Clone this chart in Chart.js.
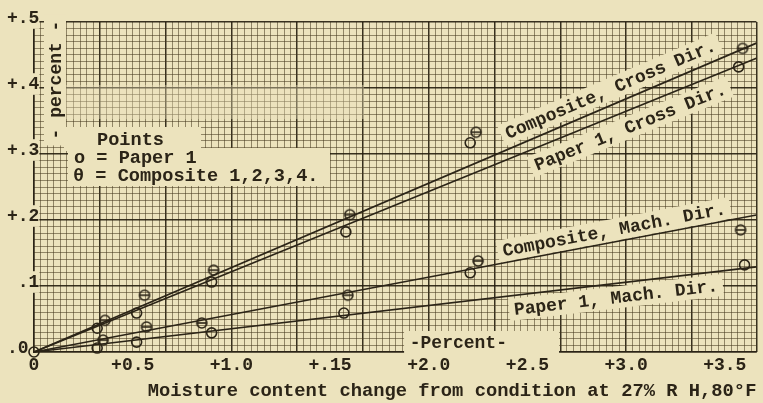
<!DOCTYPE html>
<html><head><meta charset="utf-8">
<script src="https://cdn.jsdelivr.net/npm/chart.js@4"></script>
<style>html,body{margin:0;padding:0;background:#ece3bd;} canvas{display:block}</style>
</head><body>
<canvas id="c" width="763" height="403"></canvas>
<script>
// ---------- data ----------
const xTickValues = [0, 0.5, 1, 1.5, 2, 2.5, 3, 3.5];
const xTickLabels = ["0", "+0.5", "+1.0", "+.15", "+2.0", "+2.5", "+3.0", "+3.5"];
const yTickValues = [0, 0.1, 0.2, 0.3, 0.4, 0.5];
const yTickLabels = [".0", " .1", "+.2", "+.3", "+.4", "+.5"];
const xTitle = "Moisture content change from condition at 27% R H,80°F";
const yTitle = "- percent -";
const xInnerLabel = "-Percent-";

// Points: o = Paper 1
const paperCrossX = [0, 0.32, 0.52, 0.90, 1.58, 2.21, 3.57];
const paperCrossY = [0, 0.036, 0.059, 0.106, 0.182, 0.317, 0.432];
const paperMachX  = [0.32, 0.52, 0.90, 1.57, 2.21, 3.60];
const paperMachY  = [0.006, 0.015, 0.029, 0.059, 0.120, 0.132];
// Points: θ = Composite 1,2,3,4
const compCrossX = [0.36, 0.56, 0.91, 1.60, 2.24, 3.59];
const compCrossY = [0.048, 0.086, 0.124, 0.208, 0.333, 0.460];
const compMachX  = [0.35, 0.57, 0.85, 1.59, 2.25, 3.58];
const compMachY  = [0.018, 0.038, 0.044, 0.086, 0.138, 0.185];

// Fitted straight lines (from origin to right edge)
const lineNames = ["Composite, Cross Dir.", "Paper 1, Cross Dir.", "Composite, Mach. Dir.", "Paper 1, Mach. Dir."];
const lineEndX  = [3.66, 3.66, 3.66, 3.66];
const lineEndY  = [0.468, 0.445, 0.2076, 0.129];

const legendTitle = "Points";
const legendLines = ["o = Paper 1", "θ = Composite 1,2,3,4."];

// ---------- style ----------
const INK = "#2b2417";
const BG = "#ece3bd";
const FONT = '"Liberation Mono", "DejaVu Sans Mono", monospace';
const TXT = 'bold 18px ' + FONT;
const LEG = 'bold 18.6px ' + FONT;
const XMAX = 3.66;

function pts(xs, ys){ return xs.map((x,i)=>({x:x, y:ys[i]})); }

function thetaImg(){
  const c = document.createElement('canvas'); c.width = 14; c.height = 14;
  const g = c.getContext('2d'); g.strokeStyle = INK; g.lineWidth = 1.6;
  g.beginPath(); g.arc(7,7,5,0,Math.PI*2); g.stroke();
  g.beginPath(); g.moveTo(2,7); g.lineTo(12,7); g.stroke();
  return c;
}

// label placement config (data-x along each line, side, perpendicular offset px)
const lineLabelCfg = [
  {x: 2.95, side: 1, off: 15},
  {x: 2.99, side: -1, off: 16},
  {x: 2.95, side: 1, off: 12},
  {x: 2.94, side: -1, off: 14}
];

const annot = {
  id: 'annot',
  beforeDatasetsDraw(chart){
    const ctx = chart.ctx, xs = chart.scales.x, ys = chart.scales.y, a = chart.chartArea;
    ctx.save();
    ctx.font = TXT;
    ctx.textAlign = 'center'; ctx.textBaseline = 'middle';
    // faded scan band
    ctx.fillStyle = 'rgba(236,227,189,0.38)';
    ctx.fillRect(a.left + 30, 85, 300, 34);
    // line labels
    lineNames.forEach((name, i) => {
      const x0 = xs.getPixelForValue(0), y0 = ys.getPixelForValue(0);
      const x1 = xs.getPixelForValue(lineEndX[i]), y1 = ys.getPixelForValue(lineEndY[i]);
      const ang = Math.atan2(y1 - y0, x1 - x0);
      const c = lineLabelCfg[i];
      const px = xs.getPixelForValue(c.x), py = ys.getPixelForValue(lineEndY[i] * c.x / lineEndX[i]);
      const nx = Math.sin(ang), ny = -Math.cos(ang);
      const cx = px + c.side * c.off * nx, cy = py + c.side * c.off * ny;
      const w = ctx.measureText(name).width;
      ctx.save();
      ctx.translate(cx, cy); ctx.rotate(ang);
      ctx.fillStyle = BG; ctx.fillRect(-w/2 - 5, -11, w + 10, 22);
      ctx.fillStyle = INK; ctx.fillText(name, 0, 1);
      ctx.restore();
    });
    // inner "-Percent-" label on x axis
    {
      const l = xs.getPixelForValue(1.875), r = xs.getPixelForValue(2.66);
      ctx.fillStyle = BG; ctx.fillRect(l, a.bottom - 21, r - l, 23);
      ctx.fillStyle = INK; ctx.fillText(xInnerLabel, xs.getPixelForValue(2.15), a.bottom - 9);
    }
    // legend box
    {
      const L = a.left;
      ctx.font = LEG;
      ctx.fillStyle = BG;
      ctx.fillRect(L + 30, 127, 137, 24);
      ctx.fillRect(L + 34, 148, 262, 38);
      ctx.fillStyle = INK;
      ctx.textAlign = 'left';
      ctx.fillText(legendTitle, L + 63, 140);
      ctx.fillText(legendLines[0], L + 40, 158);
      ctx.fillText(legendLines[1], L + 39, 176);
      ctx.font = TXT;
    }
    // y title (vertical)
    {
      ctx.save();
      ctx.translate(a.left + 21, 80);
      ctx.rotate(-Math.PI/2);
      const w = ctx.measureText(yTitle).width;
      ctx.fillStyle = BG; ctx.fillRect(-w/2 - 6, -11, w + 12, 22);
      ctx.fillStyle = INK; ctx.textAlign = 'center'; ctx.fillText(yTitle, 0, 1);
      ctx.restore();
    }
    ctx.restore();
  }
};

function isMajor(ctx){
  const v = ctx.tick ? ctx.tick.value : 0;
  return Math.abs(v % 10) < 1e-6 || Math.abs(v - ctx.scale.max) < 1e-6;
}
const gridColor = ctx => isMajor(ctx) ? 'rgba(35,28,12,0.9)' : 'rgba(70,56,30,0.55)';
const gridWidth = ctx => isMajor(ctx) ? 1.5 : 1;

function build(){
  const theta = thetaImg();
  const lineSets = lineNames.map((n, i) => ({
    label: n, data: [{x:0, y:0}, {x: lineEndX[i], y: lineEndY[i]}],
    showLine: true, borderColor: INK, borderWidth: 1.7, pointRadius: 0, fill: false, clip: false
  }));
  const circ = (label, d) => ({label, data: d, showLine: false, pointStyle: 'circle', pointRadius: 5,
    borderColor: INK, borderWidth: 1.6, backgroundColor: 'rgba(0,0,0,0)', clip: false});
  const th = (label, d) => ({label, data: d, showLine: false, pointStyle: theta, pointRadius: 5, clip: false});
  new Chart(document.getElementById('c'), {
    type: 'scatter',
    data: { datasets: [
      ...lineSets,
      circ('Paper 1 cross', pts(paperCrossX, paperCrossY)),
      circ('Paper 1 mach', pts(paperMachX, paperMachY)),
      th('Composite cross', pts(compCrossX, compCrossY)),
      th('Composite mach', pts(compMachX, compMachY))
    ]},
    options: {
      responsive: false, animation: false, events: [],
      layout: {padding: {left: 0, right: 1, top: 22, bottom: 0}},
      plugins: {legend: {display: false}, tooltip: {enabled: false}},
      scales: {
        x: {
          type: 'linear', position: 'bottom', min: 0, max: XMAX,
          afterBuildTicks: s => { s.ticks = xTickValues.map(v => ({value: v})); },
          ticks: {callback: (v, i) => xTickLabels[i], font: {family: FONT, size: 18, weight: 'bold'}, color: INK,
                  padding: 3, maxRotation: 0, autoSkip: false},
          grid: {display: false, drawTicks: false},
          border: {display: true, color: INK, width: 1.5},
          title: {display: true, text: xTitle, align: 'end', color: INK,
                  font: {family: FONT, size: 18.8, weight: 'bold'}, padding: {top: 0, bottom: 0}},
          afterFit: s => { s.height = 51; }
        },
        y: {
          type: 'linear', position: 'left', min: 0, max: 0.5,
          afterBuildTicks: s => { s.ticks = yTickValues.map(v => ({value: v})); },
          ticks: {callback: (v, i) => yTickLabels[i], font: {family: FONT, size: 18, weight: 'bold'}, color: INK,
                  mirror: true, crossAlign: 'near', padding: -27, labelOffset: -4, autoSkip: false,
                  showLabelBackdrop: true, backdropColor: BG, backdropPadding: {top: 0, bottom: 0, left: 0, right: 0}},
          grid: {display: false, drawTicks: false},
          border: {display: true, color: INK, width: 1.5},
          afterFit: s => { s.width = 34; }
        },
        gx: {
          type: 'linear', axis: 'x', position: 'bottom', min: 0, max: XMAX * 30, z: -1,
          afterBuildTicks: s => { const t = []; for (let i = 0; i <= Math.floor(s.max); i++) t.push({value: i}); t.push({value: s.max}); s.ticks = t; },
          ticks: {display: false},
          grid: {color: gridColor, lineWidth: gridWidth, drawTicks: false},
          border: {display: false},
          afterFit: s => { s.height = 0; }
        },
        gy: {
          type: 'linear', axis: 'y', position: 'left', min: 0, max: 50, z: -1,
          afterBuildTicks: s => { const t = []; for (let i = 0; i <= 50; i++) t.push({value: i}); s.ticks = t; },
          ticks: {display: false},
          grid: {color: gridColor, lineWidth: gridWidth, drawTicks: false},
          border: {display: false},
          afterFit: s => { s.width = 0; }
        }
      }
    },
    plugins: [annot]
  });
}

document.fonts.load('bold 18px "Liberation Mono"').then(build, build);
</script>
</body></html>
